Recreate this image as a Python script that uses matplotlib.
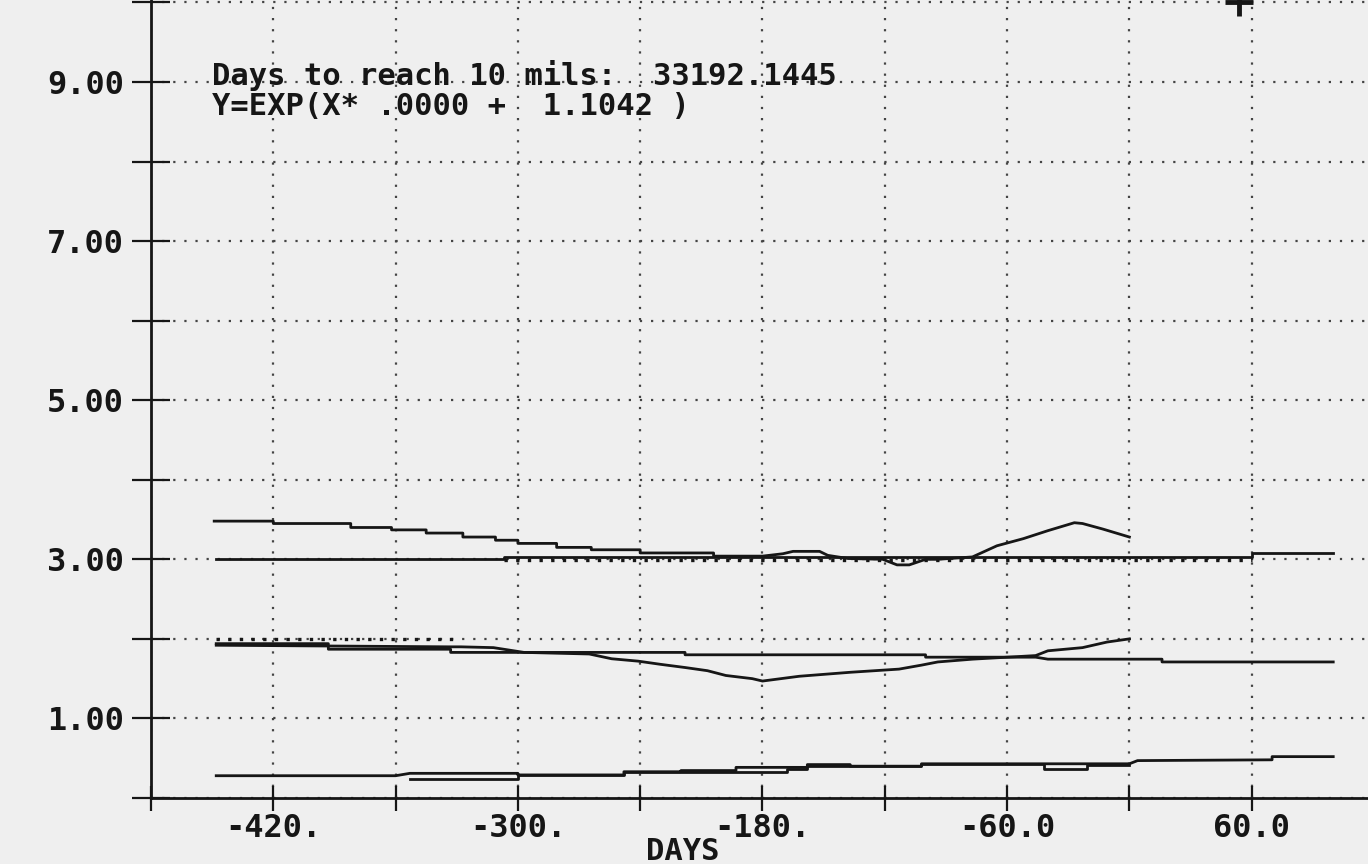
import matplotlib
matplotlib.use('Agg')
import matplotlib.pyplot as plt
import numpy as np

# upper trace, 3.5 falling to 3.0, bump near -30, ends at 0
s1_x = [-449, -420, -420, -382, -382, -362, -362, -345, -345, -327, -327, -311, -311, -300, -300,
        -281, -281, -264, -264, -240, -240, -204, -204, -180, -170, -165, -152, -148, -138, -121,
        -114, -108, -100, -94, -77, -65, -52, -40, -27, -23, -13, 0]
s1_y = [3.48, 3.48, 3.45, 3.45, 3.40, 3.40, 3.37, 3.37, 3.33, 3.33, 3.28, 3.28, 3.24, 3.24, 3.20,
        3.20, 3.15, 3.15, 3.12, 3.12, 3.08, 3.08, 3.04, 3.04, 3.07, 3.10, 3.10, 3.05, 3.01, 3.00,
        2.93, 2.93, 3.00, 3.00, 3.03, 3.17, 3.26, 3.36, 3.46, 3.45, 3.38, 3.28]

# flat trace at 3.0
s2_x = [-448, -307, -307, 60, 60, 100]
s2_y = [3.00, 3.00, 3.03, 3.03, 3.08, 3.08]

# fitted curve  Y=EXP(X*a + b)
fit_a = 0.0
fit_b = 1.1042
fit_x = [-307, 60]

# short marked trace at 2.0
s3_x = [-448, -328]
s3_y = [2.00, 2.00]

# trace dipping to ~1.5 near -180, ends at 0
s4_x = [-448, -393, -393, -333, -333, -297, -281, -265, -254, -241, -230, -218, -207, -198,
        -185, -180, -162, -137, -113, -102, -94, -77, -46, -40, -23, -11, 0]
s4_y = [1.94, 1.94, 1.87, 1.87, 1.83, 1.83, 1.82, 1.81, 1.75, 1.72, 1.68, 1.64, 1.60, 1.54,
        1.50, 1.47, 1.53, 1.58, 1.62, 1.67, 1.71, 1.745, 1.79, 1.85, 1.89, 1.96, 2.00]

# trace near 1.8 running to 100
s5_x = [-448, -333, -328, -312, -297, -218, -218, -100, -100, -46, -40, 16, 16, 100]
s5_y = [1.92, 1.90, 1.90, 1.89, 1.83, 1.83, 1.80, 1.80, 1.77, 1.77, 1.745, 1.745, 1.71, 1.71]

# bottom traces
s6_x = [-448, -360, -353, -300, -300, -248, -248, -220, -220, -193, -193, -158, -158, -137, -137,
        -102, -102, 0, 4, 70, 70, 100]
s6_y = [0.28, 0.28, 0.31, 0.31, 0.29, 0.29, 0.33, 0.33, 0.345, 0.345, 0.385, 0.385, 0.42, 0.42,
        0.40, 0.40, 0.43, 0.43, 0.47, 0.48, 0.52, 0.52]
s7_x = [-353, -300, -300, -248, -248, -168, -168, -158, -158, -102, -102, -42, -42, -21, -21, 0]
s7_y = [0.24, 0.24, 0.29, 0.29, 0.33, 0.33, 0.36, 0.36, 0.40, 0.40, 0.43, 0.43, 0.37, 0.37, 0.41, 0.41]

plus_x = [53.6]
plus_y = [10.0]

xticks = [-480, -420, -360, -300, -240, -180, -120, -60, 0, 60, 120]
xlabels = ['', '-420.', '', '-300.', '', '-180.', '', '-60.0', '', '60.0', '']
yticks = list(range(0, 11))
ylabels = ['%.2f' % v if v % 2 == 1 else '' for v in yticks]

header1 = 'Days to reach 10 mils:  33192.1445'
header2 = 'Y=EXP(X* .0000 +  1.1042 )'

bg = '#efefef'
ink = '#161616'
mono = 'DejaVu Sans Mono'

fig = plt.figure(figsize=(13.68, 8.64), dpi=100, facecolor=bg)
ax = fig.add_axes([151/1368, 66/864, (1374-151)/1368, 798/864])
ax.set_facecolor(bg)

ax.set_xlim(-480, 120)
ax.set_ylim(0, 10.03)

ax.grid(True, color='#444444', linestyle=(0, (1, 4)), linewidth=1.6)
ax.set_axisbelow(True)

lw = 2.0
ax.plot(s1_x, s1_y, color=ink, lw=lw)
ax.plot(s2_x, s2_y, color=ink, lw=lw)
fit_y = np.exp(fit_a * np.array(fit_x) + fit_b)
ax.plot(fit_x, fit_y - 0.03, color=ink, lw=2.4, linestyle=(0, (1, 2.5)))
ax.plot(s3_x, s3_y, color=ink, lw=2.4, linestyle=(0, (1, 2.5)))
ax.plot(s4_x, s4_y, color=ink, lw=lw)
ax.plot(s5_x, s5_y, color=ink, lw=lw)
ax.plot(s6_x, s6_y, color=ink, lw=lw)
ax.plot(s7_x, s7_y, color=ink, lw=lw)
ax.plot(plus_x, plus_y, '+', color=ink, ms=20, mew=3.5, clip_on=False)

for side in ['top', 'right']:
    ax.spines[side].set_visible(False)
for side in ['left', 'bottom']:
    ax.spines[side].set_linewidth(2.0)
    ax.spines[side].set_color(ink)

ax.set_xticks(xticks)
ax.set_xticklabels(xlabels)
ax.set_yticks(yticks)
ax.set_yticklabels(ylabels)
ax.tick_params(axis='y', direction='inout', length=27, width=1.6, color=ink, pad=6)
ax.tick_params(axis='x', direction='inout', length=18, width=1.6, color=ink, pad=2)
for lab in ax.get_xticklabels() + ax.get_yticklabels():
    lab.set_fontfamily(mono)
    lab.set_fontweight('bold')
    lab.set_fontsize(23)
    lab.set_color(ink)

ax.text(-219, -0.78, 'DAYS', ha='center', va='baseline', fontsize=22, fontweight='bold',
        family=mono, color=ink)
ax.text(-450, 8.96, header1, ha='left', va='baseline', fontsize=22, fontweight='bold',
        family=mono, color=ink)
ax.text(-450, 8.58, header2, ha='left', va='baseline', fontsize=22, fontweight='bold',
        family=mono, color=ink)

fig.savefig('out.png', dpi=100, facecolor=bg)
